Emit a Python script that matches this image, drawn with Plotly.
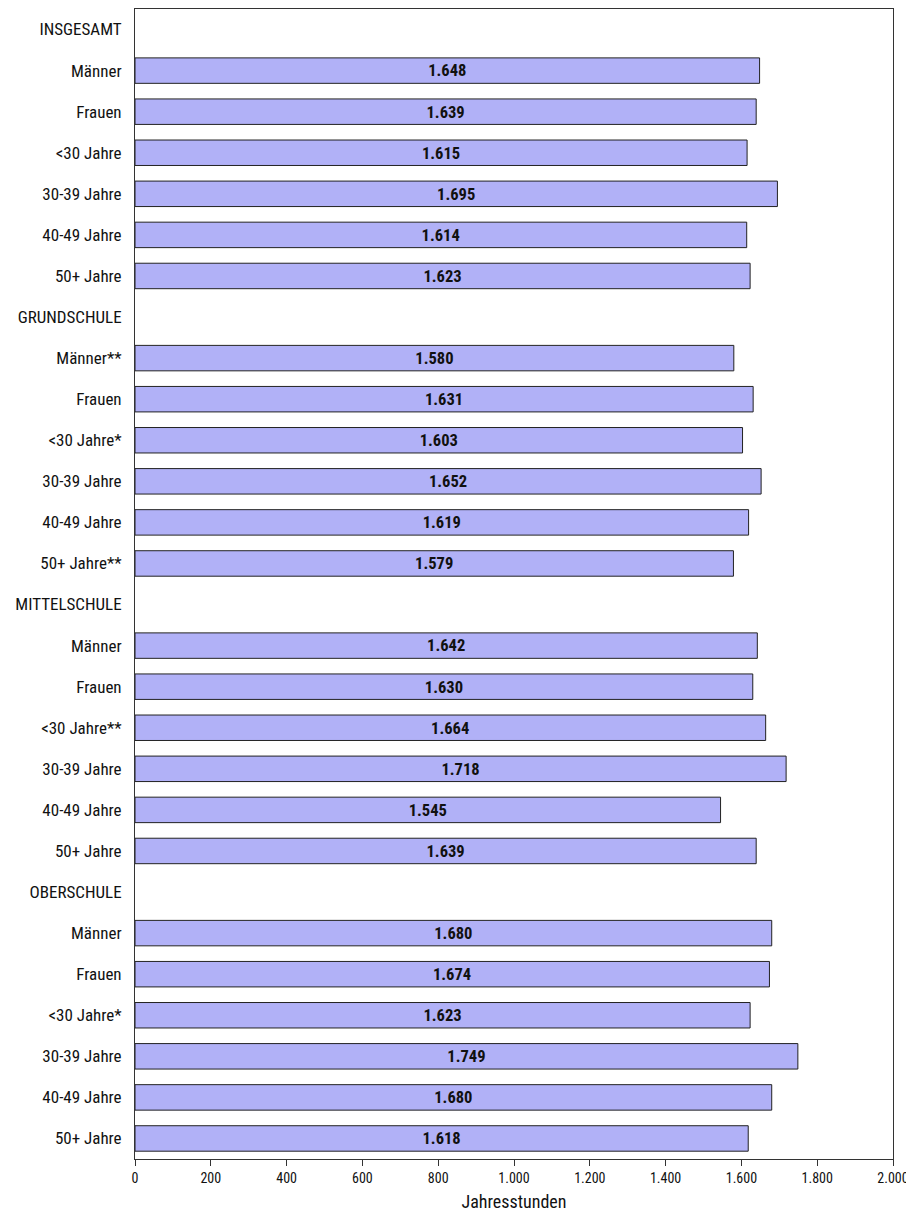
import plotly.graph_objects as go

labels = ["INSGESAMT", "Männer", "Frauen", "<30 Jahre", "30-39 Jahre", "40-49 Jahre", "50+ Jahre",
          "GRUNDSCHULE", "Männer**", "Frauen", "<30 Jahre*", "30-39 Jahre", "40-49 Jahre", "50+ Jahre**",
          "MITTELSCHULE", "Männer", "Frauen", "<30 Jahre**", "30-39 Jahre", "40-49 Jahre", "50+ Jahre",
          "OBERSCHULE", "Männer", "Frauen", "<30 Jahre*", "30-39 Jahre", "40-49 Jahre", "50+ Jahre"]
values = [None, 1648, 1639, 1615, 1695, 1614, 1623,
          None, 1580, 1631, 1603, 1652, 1619, 1579,
          None, 1642, 1630, 1664, 1718, 1545, 1639,
          None, 1680, 1674, 1623, 1749, 1680, 1618]
x_ticks = [0, 200, 400, 600, 800, 1000, 1200, 1400, 1600, 1800, 2000]

FONT = "Liberation Sans Narrow, Roboto Condensed, Arial Narrow, Roboto, sans-serif"
ypos = list(range(len(labels)))

fig = go.Figure(go.Bar(
    x=values, y=ypos, orientation="h",
    width=0.62,
    marker=dict(color="#B1B1F7", line=dict(color="#222222", width=1)),
    texttemplate="<b>%{x:,}</b>", textposition="inside", insidetextanchor="middle",
    textfont=dict(family=FONT, size=17, color="#111111"),
    hoverinfo="skip",
))

fig.update_layout(
    width=906, height=1205,
    margin=dict(l=127, r=21, t=1, b=54),
    plot_bgcolor="white", paper_bgcolor="white",
    separators=",.",
    showlegend=False,
    font=dict(family=FONT, color="#111111"),
)
fig.update_xaxes(
    range=[0, 2000], tickvals=x_ticks, tickformat=",",
    ticks="outside", ticklen=6, tickcolor="#333333",
    tickfont=dict(size=14, family=FONT),
    showgrid=False, zeroline=False,
    showline=True, linecolor="#333333", linewidth=1, mirror=True,
    title=dict(text="Jahresstunden", font=dict(size=18, family=FONT), standoff=10),
    automargin=False,
)
fig.update_yaxes(
    tickvals=ypos, ticktext=labels, autorange=False, range=[len(labels) - 0.5, -0.5],
    ticks="", tickfont=dict(size=17, family=FONT),
    showgrid=False, zeroline=False,
    showline=True, linecolor="#333333", linewidth=1, mirror=True,
    ticklabelstandoff=9,
    automargin=False,
)

fig.write_html("out.html")
